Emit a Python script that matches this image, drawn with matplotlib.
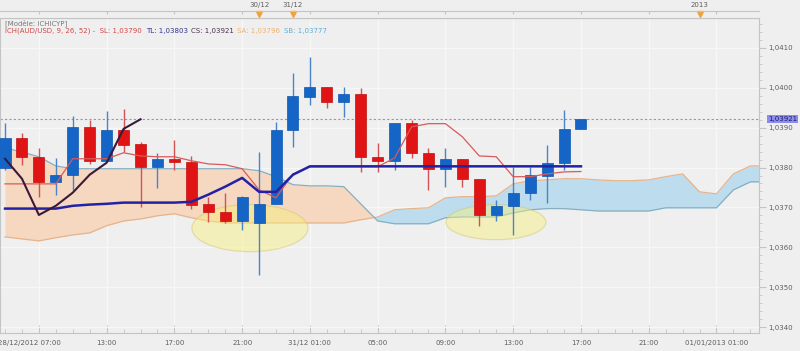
import matplotlib
matplotlib.use("Agg")
import matplotlib.pyplot as plt
import numpy as np
from matplotlib.patches import Ellipse
from matplotlib.ticker import FixedLocator, MultipleLocator, FuncFormatter
from matplotlib.transforms import ScaledTranslation, blended_transform_factory

BG = "#EFEFEF"; GRID = "#F7F7F7"; FRAME = "#C4C4C4"; TXT = "#5E5E5E"
UP = "#1565C6"; DOWN = "#E01414"
UP_WICK = "#4A84C8"; DOWN_WICK = "#D45252"

plt.rcParams.update({"font.family": "DejaVu Sans", "font.size": 5})

# hourly AUD/USD candles
opens = [1.03799, 1.03874, 1.03827, 1.03764, 1.03782, 1.03902, 1.03817, 1.03895, 1.03859,
         1.03802, 1.03822, 1.03814, 1.03709, 1.03689, 1.03666, 1.03661, 1.03709, 1.03895,
         1.03977, 1.04002, 1.03965, 1.03985, 1.03827, 1.03817, 1.03912, 1.03837, 1.03797,
         1.03822, 1.03772, 1.03681, 1.03704, 1.03737, 1.03779, 1.03812, 1.03897]
highs = [1.03912, 1.03887, 1.03849, 1.03824, 1.03930, 1.03920, 1.03942, 1.03947, 1.03864,
         1.03837, 1.03869, 1.03829, 1.03727, 1.03737, 1.03729, 1.03839, 1.03915, 1.04037,
         1.04077, 1.04002, 1.04002, 1.04000, 1.03862, 1.03912, 1.03920, 1.03849, 1.03849,
         1.03822, 1.03772, 1.03719, 1.03802, 1.03802, 1.03857, 1.03945, 1.03922]
lows = [1.03794, 1.03807, 1.03727, 1.03732, 1.03744, 1.03809, 1.03817, 1.03839, 1.03702,
        1.03749, 1.03794, 1.03697, 1.03664, 1.03661, 1.03644, 1.03531, 1.03709, 1.03852,
        1.03957, 1.03950, 1.03927, 1.03789, 1.03789, 1.03794, 1.03824, 1.03744, 1.03752,
        1.03752, 1.03654, 1.03666, 1.03631, 1.03719, 1.03712, 1.03794, 1.03897]
closes = [1.03874, 1.03827, 1.03764, 1.03782, 1.03902, 1.03817, 1.03895, 1.03857, 1.03802,
          1.03822, 1.03814, 1.03707, 1.03689, 1.03666, 1.03727, 1.03709, 1.03895, 1.03980,
          1.04002, 1.03965, 1.03985, 1.03827, 1.03817, 1.03912, 1.03837, 1.03797, 1.03822,
          1.03772, 1.03681, 1.03704, 1.03737, 1.03782, 1.03812, 1.03897, 1.03921]

# Ichimoku lines (SL = tenkan, TL = kijun)
tenkan = [1.03759, 1.03759, 1.03759, 1.03759, 1.03822, 1.03822, 1.03822, 1.03837, 1.03829,
          1.03827, 1.03827, 1.03817, 1.03809, 1.03807, 1.03797, 1.03744, 1.03724, 1.03784,
          1.03802, 1.03802, 1.03802, 1.03802, 1.03802, 1.03824, 1.03902, 1.03910, 1.03910,
          1.03877, 1.03829, 1.03827, 1.03777, 1.03777, 1.03784, 1.03789, 1.03790]
kijun = [1.03697, 1.03697, 1.03697, 1.03697, 1.03704, 1.03707, 1.03709, 1.03712, 1.03712,
         1.03712, 1.03712, 1.03714, 1.03732, 1.03752, 1.03774, 1.03739, 1.03739, 1.03782,
         1.03803, 1.03803, 1.03803, 1.03803, 1.03803, 1.03803, 1.03803, 1.03803, 1.03803,
         1.03803, 1.03803, 1.03803, 1.03803, 1.03803, 1.03803, 1.03803, 1.03803]
# cloud, already shifted forward
senkou_a = [1.03626, 1.03621, 1.03616, 1.03624, 1.03631, 1.03636, 1.03654, 1.03666, 1.03671,
            1.03679, 1.03684, 1.03674, 1.03666, 1.03661, 1.03661, 1.03661, 1.03661, 1.03661,
            1.03661, 1.03661, 1.03661, 1.03669, 1.03676, 1.03694, 1.03697, 1.03699, 1.03724,
            1.03727, 1.03727, 1.03729, 1.03759, 1.03767, 1.03769, 1.03772, 1.03772, 1.03769,
            1.03767, 1.03767, 1.03769, 1.03777, 1.03784, 1.03739, 1.03734, 1.03784, 1.03804,
            1.03804]
senkou_b = [1.03849, 1.03839, 1.03827, 1.03804, 1.03797, 1.03797, 1.03797, 1.03797, 1.03797,
            1.03797, 1.03797, 1.03797, 1.03797, 1.03797, 1.03797, 1.03792, 1.03777, 1.03757,
            1.03754, 1.03754, 1.03752, 1.03709, 1.03666, 1.03659, 1.03659, 1.03659, 1.03674,
            1.03676, 1.03676, 1.03676, 1.03686, 1.03694, 1.03697, 1.03697, 1.03694, 1.03691,
            1.03691, 1.03691, 1.03691, 1.03699, 1.03699, 1.03699, 1.03699, 1.03744, 1.03764,
            1.03764]
CHIKOU_SHIFT = 26

tick_pos = [2, 6, 10, 14, 18, 22, 26, 30, 34, 38, 42]
tick_lbl = ["28/12/2012 07:00", "13:00", "17:00", "21:00", "31/12 01:00", "05:00",
            "09:00", "13:00", "17:00", "21:00", "01/01/2013 01:00"]
day_pos = [15, 17, 41]
day_lbl = ["30/12", "31/12", "2013"]

W, H = 800, 351
def box(l, t, r, b):
    return [l / W, 1 - b / H, (r - l) / W, (b - t) / H]

fig = plt.figure(figsize=(8, 3.51), dpi=100, facecolor=BG)
ax = fig.add_axes(box(0, 18, 759, 333))
ax.set_facecolor(BG)
XL = (-0.295, 44.51)

o = np.array(opens); c = np.array(closes)
idx = np.arange(len(o))
up = c >= o

# cloud
xc = np.arange(len(senkou_a))
sa = np.array(senkou_a); sb = np.array(senkou_b)
ax.fill_between(xc, sa, sb, where=sb >= sa, interpolate=True, color="#F6D7BF", lw=0, zorder=1)
ax.fill_between(xc, sa, sb, where=sa > sb, interpolate=True, color="#BDDDEF", lw=0, zorder=1)
ax.plot(xc, sa, color="#E6B48C", lw=0.9, zorder=1.5)
ax.plot(xc, sb, color="#86AFC2", lw=0.9, zorder=1.5)

# highlighted zones
for cx, cy, w, h in [(14.46, 1.03648, 6.85, 0.00118), (28.98, 1.03663, 5.9, 0.00088)]:
    ax.add_patch(Ellipse((cx, cy), w, h, facecolor="#F7F07A", edgecolor="#CFC46A",
                         alpha=0.45, lw=0.9, zorder=2.5))

# candles
ax.vlines(idx, lows, highs, colors=np.where(up, UP_WICK, DOWN_WICK), lw=1.0, zorder=3)
ax.bar(idx, np.abs(c - o), bottom=np.minimum(o, c), width=0.65,
       color=np.where(up, UP, DOWN), edgecolor=np.where(up, "#0F56B0", "#C21010"),
       lw=0.5, zorder=4)

# lines
ax.plot(np.arange(len(tenkan)), tenkan, color="#D85A5A", lw=0.9, zorder=5)
ax.plot(np.arange(len(kijun)), kijun, color="#2222A6", lw=1.8, zorder=5.5)
ax.plot(idx[:len(c) - CHIKOU_SHIFT], c[CHIKOU_SHIFT:], color="#3A1A3A", lw=1.5, zorder=6)

# last price
ax.axhline(closes[-1], color="#8E8EE0", lw=0.8, ls=(0, (2, 2)), zorder=2)

ax.set_xlim(*XL)
ax.set_ylim(1.03385, 1.04175)
ax.set_axisbelow(True)
ax.grid(True, which="major", color=GRID, lw=0.9)

ax.xaxis.set_major_locator(FixedLocator(tick_pos))
ax.set_xticklabels(tick_lbl)
ax.xaxis.set_minor_locator(MultipleLocator(1))
ax.tick_params(axis="x", which="major", direction="in", length=6, pad=5, colors=FRAME,
               labelcolor=TXT, labelsize=5)
ax.tick_params(axis="x", which="minor", direction="in", length=3, colors=FRAME)
first = ax.get_xticklabels()[0]
first.set_transform(first.get_transform() + ScaledTranslation(-9 / 100, 0, fig.dpi_scale_trans))

ax.yaxis.tick_right()
ax.yaxis.set_major_locator(MultipleLocator(0.001))
ax.yaxis.set_minor_locator(MultipleLocator(0.0002))
ax.yaxis.set_major_formatter(FuncFormatter(lambda v, p: f"{v:.4f}".replace(".", ",")))
ax.tick_params(axis="y", which="major", direction="out", length=5, pad=1.5, colors=FRAME,
               labelcolor=TXT, labelsize=5)
ax.tick_params(axis="y", which="minor", direction="out", length=2.5, colors=FRAME)
for sp in ax.spines.values():
    sp.set_color(FRAME); sp.set_linewidth(0.8)

tr = blended_transform_factory(ax.transAxes, ax.transData)
ax.text(1 + 9 / 759, closes[-1], f"{closes[-1]:.5f}".replace(".", ","), transform=tr,
        ha="left", va="center", fontsize=5, color="#1C1C5C",
        bbox=dict(boxstyle="square,pad=0.15", fc="#8C8CF0", ec="none"), clip_on=False)

# date strip on top
ax2 = fig.add_axes(box(0, 11, 759, 18))
ax2.set_facecolor(BG)
ax2.set_xlim(*XL); ax2.set_ylim(0, 1)
ax2.set_yticks([])
ax2.xaxis.tick_top()
ax2.set_xticks(tick_pos); ax2.set_xticklabels([])
ax2.tick_params(axis="x", direction="in", length=2.5, colors=FRAME)
for k in ("left", "right"):
    ax2.spines[k].set_visible(False)
for k in ("top", "bottom"):
    ax2.spines[k].set_color(FRAME); ax2.spines[k].set_linewidth(0.8)
ax2.plot(day_pos, [0.55] * len(day_pos), ls="none", marker="v", ms=4.5,
         color="#F2A23A", clip_on=False)
for x, t in zip(day_pos, day_lbl):
    ax2.text(x, 1.45, t, ha="center", va="bottom", fontsize=5, color=TXT, clip_on=False)

# legend text
def ftxt(x, y, s, col):
    fig.text(x / W, 1 - y / H, s, ha="left", va="center", fontsize=5, color=col)
ftxt(5, 23, "[Modèle: ICHICYP]", "#777777")
ftxt(5, 30.5, "ICH(AUD/USD, 9, 26, 52) -  SL: 1,03790", "#D24848")
ftxt(146, 30.5, "TL: 1,03803", "#33338F")
ftxt(191, 30.5, "CS: 1,03921", "#4E2E4E")
ftxt(237, 30.5, "SA: 1,03796", "#F0B070")
ftxt(284, 30.5, "SB: 1,03777", "#5CB0D6")

fig.savefig("out.png", dpi=100, facecolor=BG)
